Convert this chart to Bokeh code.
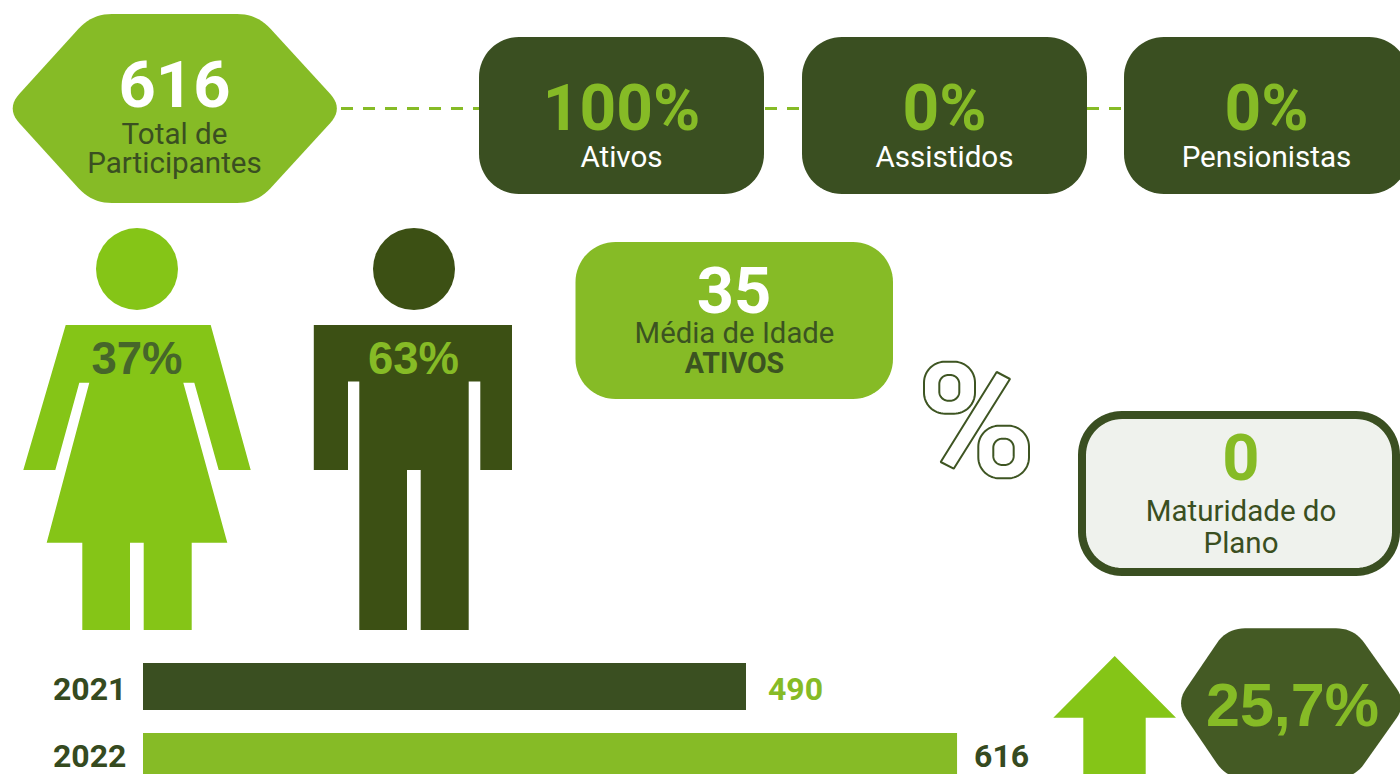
import math
from bokeh.plotting import figure
from bokeh.embed import file_html
from bokeh.resources import INLINE
from bokeh.models import Range1d
from bokeh.core.properties import value

# ---- data ----
years = [2021, 2022]
year_labels = ["2021", "2022"]
participants = [490, 616]
bar_colors = ["#3a4f21", "#86bb26"]
value_colors = ["#86bb26", "#354a20"]
total_participants = "616"
status_values = ["100%", "0%", "0%"]
status_labels = ["Ativos", "Assistidos", "Pensionistas"]
gender_shares = ["37%", "63%"]
mean_age = "35"
maturity = "0"
growth = "25,7%"

DARK = "#3a4f21"
LIGHT = "#86bb26"
ICON = "#85c517"
MAN = "#3c5014"
HEX2 = "#445a24"

# the picture is taken of the figure, so the figure is as large as the reference
W, H = 1400, 774
SHIFT = 0.5
p = figure(width=W, height=H, output_backend="svg", toolbar_location=None,
           x_range=Range1d(SHIFT, W + SHIFT), y_range=Range1d(H + SHIFT, SHIFT), min_border=0,
           background_fill_color="white", border_fill_color="white", outline_line_color=None)
p.axis.visible = False
p.grid.visible = False

# scales of the bar chart: 1.675 px per participant, baseline 130 at the bars' left edge
PX = 1.675
BASE = 130
p.extra_x_ranges["count"] = Range1d(BASE + (SHIFT - 143) / PX, BASE + (W + SHIFT - 143) / PX)
p.extra_y_ranges["year"] = Range1d(2021 + (H + SHIFT - 686.5) / 70, 2021 + (SHIFT - 686.5) / 70)

BASELINE_SHIFT = 0.35  # of the font size: where the svg backend puts an alphabetic baseline


def rounded(points, d, n=10):
    """Polygon with corners rounded by a quadratic curve cut d px from each vertex."""
    xs, ys = [], []
    m = len(points)
    for i in range(m):
        vx, vy = points[i]
        ax, ay = points[i - 1]
        bx, by = points[(i + 1) % m]
        la = ((ax - vx) ** 2 + (ay - vy) ** 2) ** 0.5
        lb = ((bx - vx) ** 2 + (by - vy) ** 2) ** 0.5
        sx, sy = vx + (ax - vx) * d / la, vy + (ay - vy) * d / la
        ex, ey = vx + (bx - vx) * d / lb, vy + (by - vy) * d / lb
        for k in range(n + 1):
            t = k / n
            xs.append((1 - t) ** 2 * sx + 2 * t * (1 - t) * vx + t * t * ex)
            ys.append((1 - t) ** 2 * sy + 2 * t * (1 - t) * vy + t * t * ey)
    return xs, ys


def rrect(x0, y0, x1, y1, r, n=16):
    """Rectangle with circular corners."""
    xs, ys = [], []
    corners = [(x1 - r, y0 + r, -90), (x1 - r, y1 - r, 0), (x0 + r, y1 - r, 90), (x0 + r, y0 + r, 180)]
    for cx, cy, a0 in corners:
        for k in range(n + 1):
            a = math.radians(a0 + 90 * k / n)
            xs.append(cx + r * math.cos(a))
            ys.append(cy + r * math.sin(a))
    return xs, ys


def shape(xy, fill, line=None, lw=0):
    p.patch(xy[0], xy[1], fill_color=fill, line_color=line, line_width=lw)


def label(x, y, s, size, color, bold=False, font="Roboto", align="center"):
    p.text([x], [y], text=[s], text_font=value(font), text_font_size=f"{size}px",
           text_font_style="bold" if bold else "normal", text_color=color,
           text_align=align, text_baseline="alphabetic", y_offset=-BASELINE_SHIFT * size)


def dash(x0, x1, y):
    p.line([x0, x1], [y, y], line_color=LIGHT, line_width=3, line_dash="12 10")


# connecting dashes
dash(341, 480, 108.5)
dash(765, 802, 108.5)
dash(1087, 1124, 108.5)

# top hexagon
shape(rounded([(6, 108.5), (92, 14), (257, 14), (343.6, 108.5), (257, 203), (92, 203)], 20), LIGHT)
label(174.5, 106.5, total_participants, 65, "white", True)
label(174.5, 144.5, "Total de", 29.6, DARK)
label(174.5, 173.5, "Participantes", 29.6, DARK)

# status boxes
for x0, val, name in zip([479, 802, 1124], status_values, status_labels):
    shape(rrect(x0, 37, x0 + 285, 194, 40), DARK)
    label(x0 + 142.5, 130.5, val, 64, LIGHT, True)
    label(x0 + 142.5, 167, name, 29.6, "white")

# woman
p.circle([137], [269], radius=41, fill_color=ICON, line_color=None)
p.patch([65.7, 210.7, 250.7, 218.7, 194.3, 183.3, 227.3, 191.7, 191.7, 143.7, 143.7, 130, 130, 82.3, 82.3, 46.7,
         89.3, 79.3, 55.3, 23.3],
        [325, 325, 470, 470, 382.7, 382.7, 542.7, 542.7, 630, 630, 542.7, 542.7, 630, 630, 542.7, 542.7,
         382.7, 382.7, 470, 470], fill_color=ICON, line_color=None)
label(137, 374, gender_shares[0], 45.5, "#46662a", True, "Liberation Sans")

# man
p.circle([414], [269], radius=41, fill_color=MAN, line_color=None)
p.patch([313.8, 512, 512, 480.3, 480.3, 468.7, 468.7, 420.7, 420.7, 407, 407, 359.3, 359.3, 348, 348, 313.8],
        [325, 325, 470, 470, 381.5, 381.5, 630, 630, 470, 470, 630, 630, 381.5, 381.5, 470, 470],
        fill_color=MAN, line_color=None)
label(413.5, 374, gender_shares[1], 45.5, LIGHT, True, "Liberation Sans")

# mean age box
shape(rrect(575.5, 242, 893, 399, 40), LIGHT)
label(734, 313, mean_age, 65, "white", True)
label(734.5, 343.5, "Média de Idade", 29.3, "#3b5321")
label(734.5, 373, "ATIVOS", 28.6, "#3b5321", True)

# outlined percent sign
OUT = "#3e5522"
shape(rrect(924, 361.7, 975, 413.7, 21), None, OUT, 2)
shape(rrect(939.3, 375, 959.3, 400.7, 9), None, OUT, 2)
shape(rrect(978.3, 425.7, 1029, 478.3, 21), None, OUT, 2)
shape(rrect(993.3, 438.7, 1013.7, 465, 9), None, OUT, 2)
p.patch([996.7, 1010, 953.7, 940.7], [372, 379, 468.7, 462], fill_color=None, line_color=OUT, line_width=2)

# maturity box
shape(rrect(1082, 415, 1396, 572, 40), "#eff2ed", DARK, 8)
label(1241, 479.5, maturity, 65, LIGHT, True)
label(1241, 521.5, "Maturidade do", 29.5, DARK)
label(1241, 553.5, "Plano", 29.5, DARK)

# arrow
p.patch([1114.7, 1176, 1145.7, 1145.7, 1083.3, 1083.3, 1053.3],
        [656, 717.7, 717.7, 790, 790, 717.7, 717.7], fill_color=ICON, line_color=None)

# growth hexagon
shape(rounded([(1176, 703.3), (1227, 628.3), (1354, 628.3), (1407, 703.3), (1354, 778.3), (1227, 778.3)], 18), HEX2)
label(1292.5, 726.7, growth, 61, LIGHT, True, "Liberation Sans")

# year bars
p.hbar(y=years, left=BASE, right=participants, height=47 / 70, fill_color=bar_colors, line_color=None,
       x_range_name="count", y_range_name="year")
SMALL = 32
p.text(x=[53, 53], y=[700, 767], text=year_labels, text_font=value("Roboto"), text_font_size=f"{SMALL}px",
       text_font_style="bold", text_color="#354a20", text_align="left", text_baseline="alphabetic",
       y_offset=-BASELINE_SHIFT * SMALL)
p.text(x=participants, y=[2021 + 13.5 / 70, 2022 + 11 / 70], text=[str(v) for v in participants],
       x_offset=[22, 17], y_offset=-BASELINE_SHIFT * SMALL,
       text_font=value("Roboto"), text_font_size=f"{SMALL}px", text_font_style="bold",
       text_color=value_colors, text_align="left", text_baseline="alphabetic",
       x_range_name="count", y_range_name="year")

open("out.html", "w").write(file_html(p, INLINE))
